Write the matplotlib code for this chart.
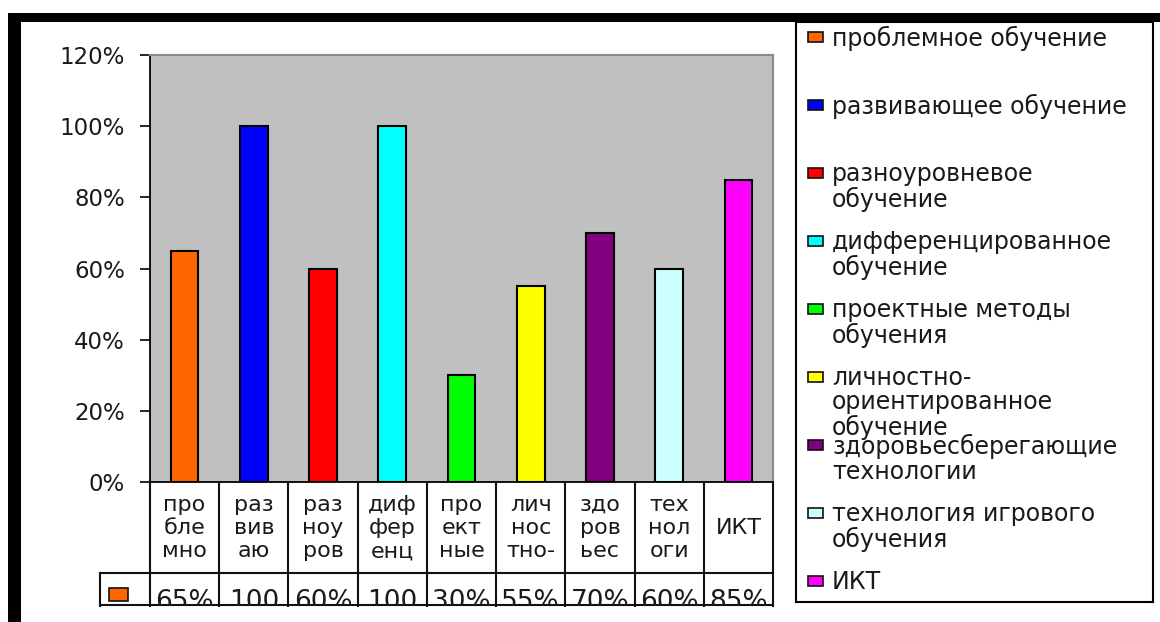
import matplotlib
matplotlib.use("Agg")
import matplotlib.pyplot as plt
from matplotlib.patches import Rectangle

# данные диаграммы
categories = ["проблемное обучение", "развивающее обучение", "разноуровневое\nобучение",
              "дифференцированное\nобучение", "проектные методы\nобучения",
              "личностно-\nориентированное\nобучение", "здоровьесберегающие\nтехнологии",
              "технология игрового\nобучения", "ИКТ"]
header_labels = ["про\nбле\nмно", "раз\nвив\nаю", "раз\nноу\nров", "диф\nфер\nенц",
                 "про\nект\nные", "лич\nнос\nтно-", "здо\nров\nьес", "тех\nнол\nоги", "ИКТ"]
values = [65, 100, 60, 100, 30, 55, 70, 60, 85]
colors = ["#FF6600", "#0000FF", "#FF0000", "#00FFFF", "#00FF00",
          "#FFFF00", "#800080", "#CCFFFF", "#FF00FF"]
y_ticks = [0, 20, 40, 60, 80, 100, 120]

plt.rcParams['font.family'] = ['DejaVu Sans']
FS = 16
TXT = "#1a1a1a"

W, H = 1160, 622
fig = plt.figure(figsize=(W / 100, H / 100), dpi=100)


def box(x0, y0, x1, y1):
    # пиксели (от верхнего левого угла) -> доли фигуры
    return [x0 / W, 1 - y1 / H, (x1 - x0) / W, (y1 - y0) / H]


# основная область
ax = fig.add_axes(box(150, 55, 773, 482))
n = len(values)
ax.bar(range(n), values, width=0.4, color=colors, edgecolor="black", linewidth=1.5, zorder=3)
ax.set_xlim(-0.5, n - 0.5)
ax.set_ylim(0, 120)
ax.set_facecolor("#C0C0C0")
ax.set_yticks(y_ticks)
ax.set_yticklabels([f"{t}%" for t in y_ticks], fontsize=16.5, color=TXT)
ax.tick_params(axis="y", length=7, width=1.2, pad=11, direction="out")
ax.set_xticks([])
for s in ("top", "right"):
    ax.spines[s].set_color("#8a8a8a")
    ax.spines[s].set_linewidth(1.5)
ax.spines["left"].set_linewidth(1.3)
ax.spines["bottom"].set_linewidth(1.3)

# таблица данных
tab = fig.add_axes(box(150, 482, 773, 606))
tab.set_xlim(-0.5, n - 0.5)
tab.set_ylim(124, 0)
tab.axis("off")
lw = 1.5
key_x = -0.5 - 50 / (623 / n)
for k in range(n + 1):
    tab.plot([k - 0.5, k - 0.5], [0, 124], color="#111111", lw=lw, clip_on=False)
tab.plot([key_x, n - 0.5], [91, 91], color="#111111", lw=lw, clip_on=False)
tab.plot([key_x, n - 0.5], [123.3, 123.3], color="#111111", lw=lw, clip_on=False)
tab.plot([key_x, key_x], [91, 124], color="#111111", lw=lw, clip_on=False)
tab.add_patch(Rectangle((key_x + 9 / 69.2, 106), 19 / 69.2, 13, facecolor=colors[0],
                        edgecolor="#111111", lw=1.2, clip_on=False))
for i in range(n):
    tab.text(i, 46, header_labels[i], ha="center", va="center", fontsize=FS,
             color=TXT, linespacing=1.2)
    tab.text(i, 127, f"{values[i]}%"[:3], ha="center", va="baseline", fontsize=19,
             color=TXT, clip_on=True)

# легенда
leg = fig.add_axes(box(796, 22, 1153, 602))
leg.set_xlim(0, 357)
leg.set_ylim(580, 0)
leg.set_xticks([])
leg.set_yticks([])
for s in leg.spines.values():
    s.set_linewidth(1.5)
for i, (lab, c) in enumerate(zip(categories, colors)):
    yc = 15 + i * 68
    leg.add_patch(Rectangle((12, yc - 5), 15, 10, facecolor=c, edgecolor="#111111", lw=1.2))
    leg.text(36, yc - 11, lab, ha="left", va="top", fontsize=17, color=TXT, linespacing=1.02)

# чёрная рамка
fig.patches.append(Rectangle((8 / W, 1 - 22 / H), 1 - 8 / W, 9 / H, transform=fig.transFigure,
                             facecolor="black", edgecolor="none", zorder=10))
fig.patches.append(Rectangle((8 / W, 0), 13 / W, 1 - 13 / H, transform=fig.transFigure,
                             facecolor="black", edgecolor="none", zorder=10))

fig.savefig("out.png", dpi=100)
